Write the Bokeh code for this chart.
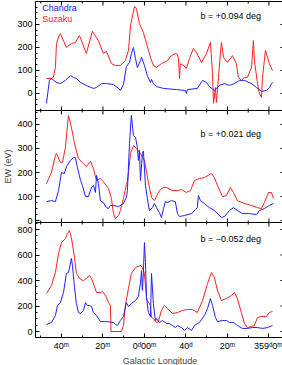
import math
from bokeh.plotting import figure
from bokeh.layouts import column
from bokeh.models import Range1d, LinearAxis, FixedTicker, Label
from bokeh.embed import file_html
from bokeh.resources import INLINE

# Galactic longitude offsets in arcmin relative to l = 0d00m (positive = east / left)
# ---- panel 1: b = +0.094 deg
p1_suzaku_l = [47.2, 44.8, 43.9, 42.9, 42.4, 41.0, 40.5, 37.6, 35.2, 33.3, 31.3, 28.0, 25.1, 22.2, 19.8, 18.3,
               15.9, 14.0, 11.6, 9.2, 7.7, 6.7, 4.8, 3.9, 2.4, 0.5, -1.0, -2.9, -4.3, -5.8, -8.2, -11.1, -13.0,
               -14.9, -15.9, -16.4, -16.9, -17.3, -18.8, -20.2, -21.7, -23.6, -25.1, -27.5, -29.9, -31.8, -32.8,
               -33.3, -34.2, -34.7, -35.7, -36.6, -37.1, -38.1, -40.0, -42.4, -44.3, -45.3, -46.7, -48.2, -49.6,
               -51.6, -52.5, -53.0, -54.5, -55.4, -56.4, -56.9, -58.3, -59.3, -60.2, -61.7]
p1_suzaku_ew = [65, 65, 70, 113, 217, 256, 260, 200, 217, 222, 252, 174, 270, 230, 174, 183,
                130, 122, 122, 143, 187, 296, 378, 370, 304, 265, 217, 157, 122, 113, 130, 143, 165,
                174, 170, 152, 65, 130, 122, 109, 152, 196, 178, 135, 174, 222, 87,
                -43, 26, -39, 70, 174, 222, 157, 135, 165, 130, 70, 57, 70, 70,
                113, 230, 143, 43, 0, -17, 70, 187, 157, 130, 100]
p1_chandra_l = [47.2, 45.8, 44.8, 42.4, 40.5, 38.1, 35.7, 34.2, 32.8, 30.8, 28.0, 24.6, 23.1, 20.7, 18.3, 14.9,
                12.5, 11.6, 10.1, 8.7, 7.2, 6.3, 5.3, 4.3, 3.4, 1.9, 1.4, 0.0, -1.4, -2.9, -3.4, -4.3, -5.8,
                -9.2, -15.4, -19.8, -20.2, -20.7, -25.5, -28.0, -29.9, -31.3, -33.7, -36.1, -38.6, -41.0,
                -43.4, -45.8, -48.2, -51.6, -54.0, -56.4, -58.8, -60.2, -61.7]
p1_chandra_ew = [-43, 57, 65, 48, 43, 57, 78, 70, 65, 48, 35, 22, 26, 43, 43, 39,
                 22, 13, 39, 117, 135, 174, 200, 152, 113, 143, 157, 122, 78, 48, 61, 43, 30,
                 22, 17, 13, 0, 17, 22, 57, 48, 30, 13, 35, 43, 35,
                 43, 57, 57, 43, 26, 9, 13, 26, 48]

# ---- panel 2: b = +0.021 deg
p2_suzaku_l = [47.2, 44.8, 42.9, 42.4, 40.5, 39.5, 38.1, 36.6, 35.2, 33.7, 31.8, 29.4, 28.0, 26.0, 24.6, 23.1,
               21.2, 19.8, 17.3, 15.9, 14.9, 14.0, 12.5, 11.6, 10.1, 8.7, 8.2, 6.7, 5.3, 3.9, 1.9, 0.0, -1.9,
               -3.4, -4.8, -7.2, -9.2, -10.6, -13.5, -15.9, -17.8, -20.2, -22.2, -24.1, -26.5, -28.9, -32.3,
               -33.7, -35.2, -37.6, -39.5, -41.4, -42.9, -44.8, -48.2, -51.6, -54.5, -56.4, -57.8, -59.8,
               -61.2, -62.2]
p2_suzaku_ew = [154, 200, 271, 279, 242, 242, 304, 438, 388, 321, 258, 237, 225, 246, 217, 167,
                175, 162, 133, 92, 29, 8, 21, 42, 92, 150, 162, 279, 312, 300, 279, 250, 160,
                96, 83, 125, 138, 138, 125, 125, 129, 117, 125, 167, 175, 179, 196,
                179, 146, 100, 104, 138, 117, 83, 71, 63, 54, 50, 75, 117,
                117, 92]
p2_chandra_l = [47.2, 44.8, 42.9, 41.4, 40.0, 38.6, 37.6, 35.7, 34.2, 33.3, 32.3, 30.8, 29.9, 28.4, 27.0, 25.5,
                24.6, 23.6, 23.1, 22.2, 21.2, 19.8, 18.3, 17.3, 16.4, 14.9, 12.5, 10.1, 8.7, 8.2, 7.2, 6.3,
                5.3, 4.3, 3.4, 2.9, 2.4, 1.9, 1.0, 0.5, -0.5, -1.4, -2.4, -3.9, -4.8, -5.8, -7.2, -8.2, -9.2,
                -10.1, -11.1, -13.0, -14.9, -15.9, -16.9, -19.3, -22.7, -24.6, -25.5, -26.0, -27.0, -28.9,
                -31.3, -33.7, -37.1, -38.6, -41.0, -42.9, -44.8, -47.2, -50.6, -54.0, -55.4, -57.8, -60.2,
                -62.2]
p2_chandra_ew = [79, 83, 79, 125, 200, 196, 225, 250, 262, 262, 221, 167, 146, 100, 100, 138,
                 146, 117, 188, 154, 83, 75, 54, 50, 63, 63, 58, 71, 96, 125, 321, 438,
                 354, 346, 304, 250, 292, 167, 279, 290, 146, 92, 42, 54, 71, 54, 33, 13, 50,
                 79, 75, 83, 79, 29, 17, 21, 29, 46, 54, 104, 83, 71,
                 54, 42, 13, 17, 42, 54, 42, 29, 29, 25, 42, 50, 63,
                 71]

# ---- panel 3: b = -0.052 deg
p3_suzaku_l = [47.2, 44.8, 42.9, 41.4, 40.0, 38.1, 37.1, 36.1, 35.2, 33.7, 32.8, 30.8, 29.4, 28.0, 26.5, 25.5,
               23.1, 21.2, 20.2, 18.8, 17.3, 16.4, 16.1, 11.1, 10.1, 9.2, 7.7, 6.3, 4.3, 1.9, 1.0, 0.0, -1.0,
               -1.4, -2.9, -3.4, -4.3, -5.8, -6.7, -8.2, -9.6, -11.1, -13.5, -15.9, -18.3, -20.7, -23.1,
               -25.5, -28.0, -30.4, -32.3, -33.7, -35.2, -37.1, -39.5, -41.9, -43.4, -44.8, -46.7, -48.2,
               -49.6, -51.6, -53.0, -54.5, -56.4, -58.8, -60.2, -61.7]
p3_suzaku_ew = [298, 361, 463, 612, 698, 729, 769, 792, 737, 580, 455, 408, 400, 416, 439, 416,
                306, 306, 314, 282, 227, 204, 0, 0, 47, 204, 337, 455, 502, 518, 502, 455, 267,
                243, 204, 110, 102, 71, 78, 165, 204, 180, 141, 149, 165, 173, 173,
                149, 243, 376, 463, 424, 322, 243, 259, 282, 306, 259, 149, 63,
                31, 39, 47, 110, 118, 118, 149, 157]
p3_chandra_l = [47.2, 44.8, 42.9, 41.9, 40.5, 39.0, 37.6, 36.6, 35.2, 34.7, 33.7, 32.8, 31.8, 30.8, 29.4, 28.4,
                27.5, 26.5, 25.5, 24.6, 23.1, 21.2, 18.3, 14.9, 14.0, 13.0, 11.6, 10.1, 8.7, 7.7, 6.3, 4.3,
                2.9, 1.9, 1.4, 1.0, 0.5, 0.0, -0.5, -1.0, -1.9, -2.9, -3.4, -4.3, -5.3, -5.8, -7.2, -8.7,
                -10.6, -12.0, -13.5, -14.9, -15.9, -17.8, -19.3, -20.7, -22.7, -24.1, -26.5, -28.9, -30.4,
                -31.8, -32.8, -34.2, -35.2, -37.6, -39.5, -41.0, -42.9, -44.8, -47.2, -49.6, -52.0, -54.5,
                -56.9, -59.3, -61.7]
p3_chandra_ew = [55, 71, 125, 204, 227, 306, 455, 463, 573, 518, 345, 220, 149, 141, 165, 227,
                 204, 204, 196, 149, 125, 78, 78, 71, 55, 47, 86, 118, 227, 196, 220, 243,
                 275, 384, 478, 322, 463, 698, 541, 267, 149, 118, 455, 220, 86, 102, 71, 86,
                 63, 63, 47, 31, 47, 31, 8, 31, 8, 47, 71, 125, 180,
                 259, 204, 110, 78, 86, 86, 71, 71, 47, 24, 24, 31, 31,
                 24, 31, 47]

panel_labels = ["b = +0.094 deg", "b = +0.021 deg", "b = \u22120.052 deg"]
x_ticks = [40, 20, 0, -20, -40, -60]
x_tick_labels = ["40\u1d50", "20\u1d50", "0\u1d4800\u1d50", "40\u1d48", "20\u1d50", "359\u1d480\u1d50"]
x_minor = [50, 30, 10, -10, -30, -50]

y_ranges = [(-74, 400), (-8, 458), (-47, 855)]
y_major = [[0, 100, 200, 300], [0, 100, 200, 300, 400], [0, 200, 400, 600, 800]]
y_minor = [[v for v in range(-50, 401, 25) if v % 100], [v for v in range(0, 451, 25) if v % 100],
           [v for v in range(0, 851, 50) if v % 200]]

BLUE = "#2020ff"
RED = "#ff2020"
FONT = "Liberation Sans"
FS = "9px"
OVERLAP = 5

x_range = Range1d(52.5, -67.5)


def style_axis(ax):
    ax.axis_line_color = "black"
    ax.major_tick_line_color = "black"
    ax.minor_tick_line_color = "black"
    ax.major_tick_in = 4
    ax.major_tick_out = 0
    ax.minor_tick_in = 2
    ax.minor_tick_out = 0
    ax.major_label_text_font = FONT
    ax.major_label_text_font_size = FS
    ax.major_label_text_color = "black"
    ax.axis_label_text_font = FONT
    ax.axis_label_text_font_size = FS
    ax.axis_label_text_font_style = "normal"


def make_panel(i, frame_h, top, bottom, last, ylabel=None):
    lo, hi = y_ranges[i]
    p = figure(frame_width=249, frame_height=frame_h, x_range=x_range, y_range=Range1d(lo, hi),
               output_backend="svg", toolbar_location=None, min_border_left=32, min_border_right=1,
               min_border_top=top, min_border_bottom=bottom, x_axis_location=None, y_axis_location=None)
    p.grid.visible = False
    p.outline_line_color = "black"
    p.outline_line_width = 1
    p.background_fill_color = "white"
    p.border_fill_color = "white"

    xt = FixedTicker(ticks=x_ticks, minor_ticks=x_minor)
    yt = FixedTicker(ticks=y_major[i], minor_ticks=y_minor[i])

    yl = LinearAxis(ticker=yt)
    style_axis(yl)
    yl.major_label_standoff = 3
    if ylabel:
        yl.axis_label = ylabel
        yl.axis_label_standoff = 1
    p.add_layout(yl, "left")

    if last:
        xb = LinearAxis(ticker=xt, axis_label="Galactic Longitude",
                        major_label_overrides=dict(zip(x_ticks, x_tick_labels)))
        style_axis(xb)
        xb.major_label_standoff = 3
        xb.axis_label_standoff = 2
        p.add_layout(xb, "below")

    # mirrored (inward) tick marks on the other frame sides, clipped by the frame
    tick_kw = dict(marker="dash", line_color="black", line_width=1)
    p.scatter(x=x_ticks, y=[hi] * len(x_ticks), angle=math.pi / 2, size=8, **tick_kw)
    p.scatter(x=x_minor, y=[hi] * len(x_minor), angle=math.pi / 2, size=4, **tick_kw)
    if not last:
        p.scatter(x=x_ticks, y=[lo] * len(x_ticks), angle=math.pi / 2, size=8, **tick_kw)
        p.scatter(x=x_minor, y=[lo] * len(x_minor), angle=math.pi / 2, size=4, **tick_kw)
    p.scatter(x=[x_range.end] * len(y_major[i]), y=y_major[i], size=8, **tick_kw)
    p.scatter(x=[x_range.end] * len(y_minor[i]), y=y_minor[i], size=4, **tick_kw)
    return p


p1 = make_panel(0, 109, 1, OVERLAP, False)
p2 = make_panel(1, 112, OVERLAP, OVERLAP, False, ylabel="EW (eV)")
p3 = make_panel(2, 115, OVERLAP, 28, True)
# let the panels overlap so the tick labels at the panel edges are not cut off
for p in (p2, p3):
    p.margin = (-2 * OVERLAP, 0, 0, 0)
    p.border_fill_alpha = 0

series = [(p1, p1_chandra_l, p1_chandra_ew, p1_suzaku_l, p1_suzaku_ew),
          (p2, p2_chandra_l, p2_chandra_ew, p2_suzaku_l, p2_suzaku_ew),
          (p3, p3_chandra_l, p3_chandra_ew, p3_suzaku_l, p3_suzaku_ew)]
for p, cl, ce, sl, se in series:
    p.line(sl, se, line_color=RED, line_width=1)
    p.line(cl, ce, line_color=BLUE, line_width=1)

label_pos = [(-27.0, 335), (-27.0, 362), (-27.0, 722)]
for p, txt, (lx, ly) in zip([p1, p2, p3], panel_labels, label_pos):
    p.add_layout(Label(x=lx, y=ly, text=txt, text_font=FONT, text_font_size=FS,
                       text_baseline="middle", text_color="black"))

p1.add_layout(Label(x=49.2, y=370, text="Chandra", text_font=FONT, text_font_size=FS,
                    text_baseline="middle", text_color=BLUE))
p1.add_layout(Label(x=49.2, y=322, text="Suzaku", text_font=FONT, text_font_size=FS,
                    text_baseline="middle", text_color=RED))

layout = column(p1, p2, p3, spacing=0)
open("out.html", "w").write(file_html(layout, INLINE))
